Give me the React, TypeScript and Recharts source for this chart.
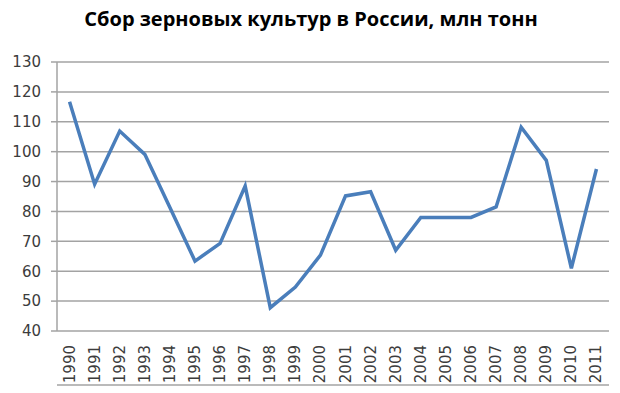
import React from 'react';
import { LineChart, Line, XAxis, YAxis, CartesianGrid } from 'recharts';

const years = [
    '1990', '1991', '1992', '1993', '1994', '1995', '1996', '1997', '1998', '1999', '2000',
    '2001', '2002', '2003', '2004', '2005', '2006', '2007', '2008', '2009', '2010', '2011',
];
const harvest = [
    116.7, 89.1, 106.9, 99.1, 81.3, 63.4, 69.3, 88.5, 47.8, 54.7, 65.4,
    85.2, 86.6, 67.0, 78.0, 78.0, 78.0, 81.5, 108.2, 97.1, 61.0, 94.2,
];
const yTicks = [40, 50, 60, 70, 80, 90, 100, 110, 120, 130];
const boundaryTicks = years.map((_, i) => i).concat([years.length]);

const data = years.map((year, i) => ({ year, value: harvest[i] }));

const labelColor = '#3c3c3c';
const gridColor = '#a3a3a3';

function YearTick({ x, y, payload }: any) {
    return (
        <text
            x={0}
            y={0}
            transform={`translate(${x + 5}, ${y + 6}) rotate(-90)`}
            textAnchor="end"
            fill={labelColor}
            fontSize={15}
            fontFamily="DejaVu Sans"
        >
            {payload.value}
        </text>
    );
}

export default function App() {
    return (
        <div style={{ position: 'relative', width: 620, height: 393, background: '#fff' }}>
            <style>{`body{margin:0}`}</style>
            <div
                style={{
                    position: 'absolute',
                    top: 5,
                    left: 0,
                    width: 622,
                    textAlign: 'center',
                    fontFamily: 'Open Sans',
                    fontWeight: 700,
                    fontSize: 20,
                    color: '#000',
                }}
            >
                Сбор зерновых культур в России, млн тонн
            </div>
            <LineChart width={620} height={393} data={data} margin={{ top: 62, right: 11, left: 0, bottom: 0 }}>
                <CartesianGrid vertical={false} stroke={gridColor} strokeWidth={1.5} />
                <XAxis
                    xAxisId="bounds"
                    type="number"
                    domain={[0, years.length]}
                    ticks={boundaryTicks}
                    tick={false}
                    height={8}
                    axisLine={{ stroke: gridColor, strokeWidth: 1.5 }}
                    tickLine={{ stroke: gridColor, strokeWidth: 1.5 }}
                    tickSize={6}
                />
                <XAxis
                    dataKey="year"
                    scale="band"
                    interval={0}
                    axisLine={false}
                    tickLine={false}
                    height={54}
                    tick={<YearTick />}
                />
                <YAxis
                    domain={[40, 130]}
                    ticks={yTicks}
                    interval={0}
                    width={57}
                    axisLine={{ stroke: gridColor, strokeWidth: 1.5 }}
                    tickLine={{ stroke: gridColor, strokeWidth: 1.5 }}
                    tickSize={6}
                    tickMargin={10}
                    tick={{ fill: labelColor, fontSize: 15, fontFamily: 'DejaVu Sans' }}
                />
                <Line
                    dataKey="value"
                    stroke="#4a7ebb"
                    strokeWidth={3.5}
                    dot={false}
                    isAnimationActive={false}
                    strokeLinejoin="miter"
                />
            </LineChart>
        </div>
    );
}
